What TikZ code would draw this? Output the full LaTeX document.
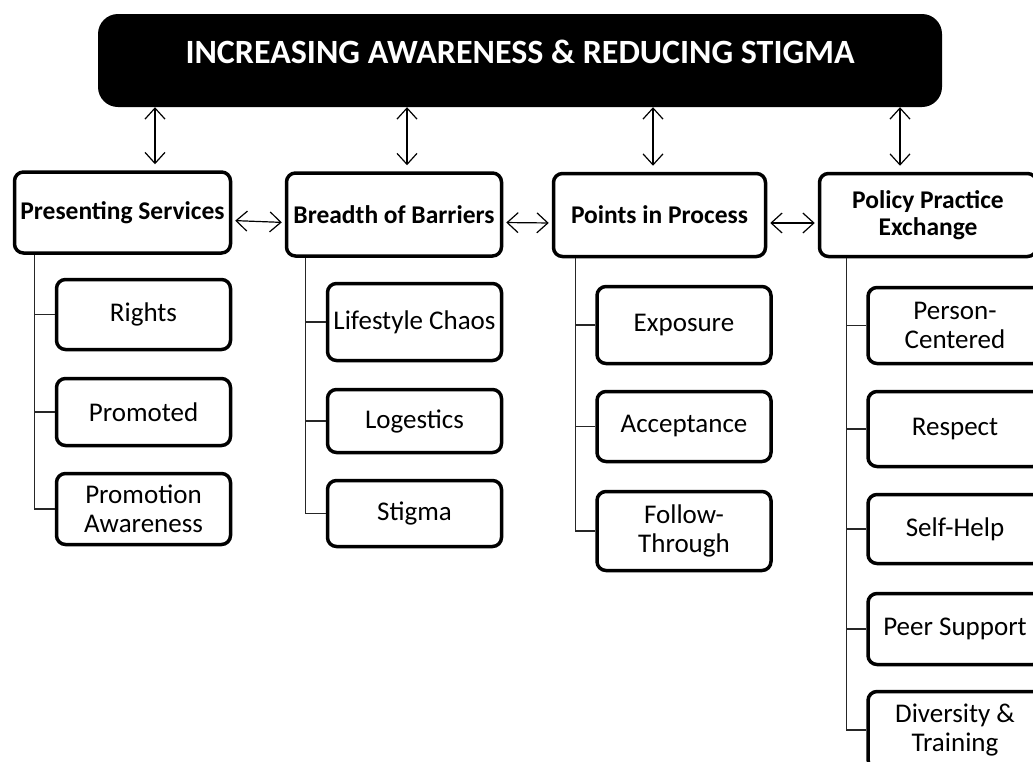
\documentclass[tikz,border=0pt]{standalone}
\usepackage{fontspec}
\setmainfont{Carlito}
\usetikzlibrary{arrows.meta}

\begin{document}
\begin{tikzpicture}[x=1pt,y=-1pt,
    banner/.style={fill=black,rounded corners=20pt,text=white,
      font=\bfseries\fontsize{34}{38}\selectfont,
      minimum width=844,minimum height=93,text height=27pt,text depth=22pt},
    topbox/.style={draw,line width=3.5pt,rounded corners=9pt,fill=white,
      align=center,inner sep=0pt,font=\bfseries\fontsize{25.5}{27}\selectfont},
    subbox/.style={draw,line width=3.5pt,rounded corners=9pt,fill=white,
      align=center,inner sep=0pt,minimum width=174,
      font=\fontsize{27}{29}\selectfont},
    link/.style={{Straight Barb[length=11pt,width=20pt]}-{Straight Barb[length=11pt,width=20pt]},
      line width=1.2pt},
    tree/.style={line width=1.3pt,black!85}]
  \useasboundingbox (0,0) rectangle (1033,761);

  \node[banner] (top) at (520,60.5) {INCREASING AWARENESS \& REDUCING STIGMA};

  % first row
  \node[topbox,minimum width=216,minimum height=81] (ps) at (122.5,212.5) {Presenting Services};
  \node[topbox,minimum width=215,minimum height=83] (bb) at (394,214.5) {Breadth of Barriers};
  \node[topbox,minimum width=212,minimum height=83] (pp) at (659.5,215) {Points in Process};
  \node[topbox,minimum width=217,minimum height=83] (pe) at (928,215) {Policy Practice\\Exchange};

  % second row
  \node[subbox,minimum height=70] (r1) at (143.5,314.5) {Rights};
  \node[subbox,minimum height=67] (r2) at (143.5,412) {Promoted};
  \node[subbox,minimum height=71] (r3) at (143.5,509) {Promotion\\Awareness};

  \node[subbox,minimum height=77] (b1) at (414.5,322) {Lifestyle Chaos};
  \node[subbox,minimum height=63] (b2) at (414.5,421) {Logestics};
  \node[subbox,minimum height=66] (b3) at (414.5,513.5) {Stigma};

  \node[subbox,minimum height=77] (p1) at (684,325) {Exposure};
  \node[subbox,minimum height=70] (p2) at (684,426.5) {Acceptance};
  \node[subbox,minimum height=79] (p3) at (684,531) {Follow-\\Through};

  \node[subbox,minimum height=76] (e1) at (955,325.5) {Person-\\Centered};
  \node[subbox,minimum height=75] (e2) at (955,429) {Respect};
  \node[subbox,minimum height=69] (e3) at (955,529) {Self-Help};
  \node[subbox,minimum height=71] (e4) at (955,629) {Peer Support};
  \node[subbox,minimum height=77] (e5) at (955,730) {Diversity \&\\Training};

  % arrows
  \coordinate (a1) at ([xshift=32.5pt]ps.north);
  \coordinate (a2) at ([xshift=13pt]bb.north);
  \coordinate (a3) at ([xshift=-6.5pt]pp.north);
  \coordinate (a4) at ([xshift=-28pt]pe.north);
  \draw[link] (a1 |- top.south) -- ([yshift=6pt]a1);
  \draw[link] (a2 |- top.south) -- ([yshift=6pt]a2);
  \draw[link] (a3 |- top.south) -- ([yshift=6pt]a3);
  \draw[link] (a4 |- top.south) -- ([yshift=6pt]a4);
  \draw[link,shorten <=3pt,shorten >=3pt] ([yshift=-8pt]ps.east) -- ([yshift=-8pt]bb.west);
  \draw[link,shorten <=3pt,shorten >=3pt] ([yshift=-8pt]bb.east) -- ([yshift=-8pt]pp.west);
  \draw[link,shorten <=3pt,shorten >=3pt] ([yshift=-8pt]pp.east) -- ([yshift=-8pt]pe.west);

  % trees
  \coordinate (t1) at ([xshift=21.5pt]ps.south west);
  \coordinate (t2) at ([xshift=20.5pt]bb.south west);
  \coordinate (t3) at ([xshift=23.5pt]pp.south west);
  \coordinate (t4) at ([xshift=28.5pt]pe.south west);
  \draw[tree] (t1) |- (r3.west);
  \draw[tree] (r1.west) -- (r1.west -| t1);
  \draw[tree] (r2.west) -- (r2.west -| t1);
  \draw[tree] (t2) |- (b3.west);
  \draw[tree] (b1.west) -- (b1.west -| t2);
  \draw[tree] (b2.west) -- (b2.west -| t2);
  \draw[tree] (t3) |- (p3.west);
  \draw[tree] (p1.west) -- (p1.west -| t3);
  \draw[tree] (p2.west) -- (p2.west -| t3);
  \draw[tree] (t4) |- (e5.west);
  \draw[tree] (e1.west) -- (e1.west -| t4);
  \draw[tree] (e2.west) -- (e2.west -| t4);
  \draw[tree] (e3.west) -- (e3.west -| t4);
  \draw[tree] (e4.west) -- (e4.west -| t4);
\end{tikzpicture}
\end{document}
